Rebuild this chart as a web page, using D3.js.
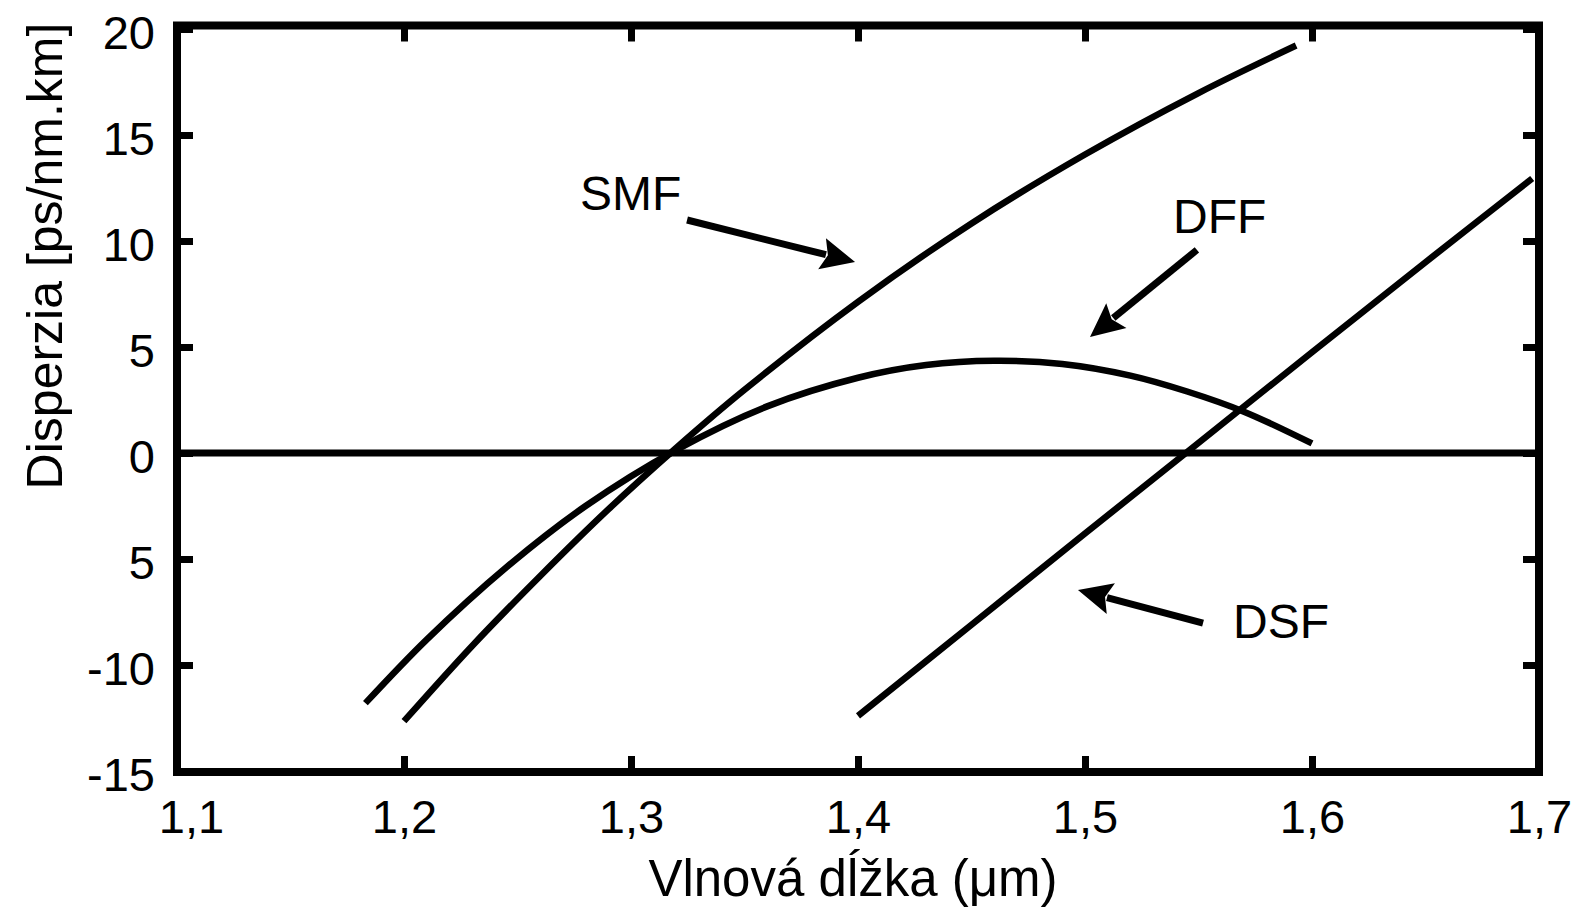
<!DOCTYPE html>
<html>
<head>
<meta charset="utf-8">
<script src="https://cdn.jsdelivr.net/npm/d3@7/dist/d3.min.js"></script>
<style>
body { margin: 0; background: #fff; }
svg text { font-family: "Liberation Sans", Arial, sans-serif; fill: #000; }
</style>
</head>
<body>
<script>
// axis ticks
const xTicks = [1.1, 1.2, 1.3, 1.4, 1.5, 1.6, 1.7];
const xTickLabels = ["1,1", "1,2", "1,3", "1,4", "1,5", "1,6", "1,7"];
const yTicks = [-15, -10, -5, 0, 5, 10, 15, 20];
const yTickLabels = ["-15", "-10", "5", "0", "5", "10", "15", "20"]; // as printed

// dispersion curves [wavelength um, ps/nm.km]
const smf = [[1.20, -12.65], [1.23, -9.1], [1.26, -5.8], [1.29, -2.66], [1.32, 0.25],
             [1.35, 2.98], [1.40, 7.13], [1.45, 10.83], [1.50, 14.08], [1.55, 16.98], [1.593, 19.22]];
const dff = [[1.183, -11.8], [1.21, -8.8], [1.245, -5.4], [1.28, -2.5], [1.32, 0.15],
             [1.36, 2.2], [1.40, 3.55], [1.43, 4.15], [1.46, 4.35], [1.49, 4.2],
             [1.52, 3.65], [1.545, 2.9], [1.57, 1.95], [1.60, 0.45]];
const dsf = [[1.40, -12.4], [1.45, -8.1], [1.50, -3.8], [1.545, 0.05],
             [1.60, 4.75], [1.65, 9.0], [1.697, 12.95]];

// labels with arrows (data units)
const notes = [
    { name: "SMF", tx: 1.2775, ty: 11.46, from: [1.3247, 10.99], to: [1.3987, 9.01] },
    { name: "DFF", tx: 1.5388, ty: 10.38, from: [1.5493, 9.58], to: [1.5022, 5.47] },
    { name: "DSF", tx: 1.5652, ty: -8.73, from: [1.552, -8.02], to: [1.4969, -6.46] }
];

const width = 1576, height = 918;
const svg = d3.select("body").append("svg")
    .attr("width", width)
    .attr("height", height);

const x = d3.scaleLinear().domain([1.1, 1.7]).range([177, 1539]);
const y = d3.scaleLinear().domain([-15, 20]).range([771, 29]);

const frameTop = 25.5, frameBottom = 772;

// inward ticks on all four sides
function styleAxis(g) {
    g.select(".domain").remove();
    g.selectAll(".tick line").attr("stroke", "#000").attr("stroke-width", 7);
    g.selectAll("text").attr("font-size", 47);
    g.attr("font-family", null).attr("font-size", null);
}

svg.append("g")
    .attr("transform", `translate(0,${frameBottom})`)
    .call(d3.axisBottom(x).tickValues(xTicks).tickSize(-16).tickPadding(28)
        .tickFormat((d, i) => xTickLabels[i]))
    .call(styleAxis)
    .selectAll("text").attr("dx", (d, i) => i === 0 ? 14 : 0);

svg.append("g")
    .attr("transform", `translate(0,${frameTop})`)
    .call(d3.axisTop(x).tickValues(xTicks).tickSize(-16).tickFormat(""))
    .call(styleAxis);

svg.append("g")
    .attr("transform", `translate(177,0)`)
    .call(d3.axisLeft(y).tickValues(yTicks).tickSize(-16).tickPadding(22)
        .tickFormat((d, i) => yTickLabels[i]))
    .call(styleAxis)
    .selectAll("text").attr("dy", "0.42em");

svg.append("g")
    .attr("transform", `translate(1539,0)`)
    .call(d3.axisRight(y).tickValues(yTicks).tickSize(-16).tickFormat(""))
    .call(styleAxis);

// frame
svg.append("rect")
    .attr("x", x.range()[0]).attr("y", frameTop)
    .attr("width", x.range()[1] - x.range()[0]).attr("height", frameBottom - frameTop)
    .attr("fill", "none").attr("stroke", "#000").attr("stroke-width", 8);

// zero line
svg.append("line")
    .attr("x1", x(1.1)).attr("x2", x(1.7))
    .attr("y1", y(0)).attr("y2", y(0))
    .attr("stroke", "#000").attr("stroke-width", 7);

const line = d3.line()
    .x(d => x(d[0]))
    .y(d => y(d[1]))
    .curve(d3.curveCatmullRom.alpha(0.5));

svg.append("g")
    .selectAll("path")
    .data([smf, dff, dsf])
    .enter().append("path")
    .attr("d", line)
    .attr("fill", "none")
    .attr("stroke", "#000")
    .attr("stroke-width", 6.5);

// annotations
const ann = svg.append("g");
notes.forEach(n => {
    const x1 = x(n.from[0]), y1 = y(n.from[1]);
    const x2 = x(n.to[0]), y2 = y(n.to[1]);
    const a = Math.atan2(y2 - y1, x2 - x1);
    const hl = 34, hw = 16;
    const bx = x2 - hl * Math.cos(a), by = y2 - hl * Math.sin(a);
    ann.append("line")
        .attr("x1", x1).attr("y1", y1)
        .attr("x2", bx + 4 * Math.cos(a)).attr("y2", by + 4 * Math.sin(a))
        .attr("stroke", "#000").attr("stroke-width", 7);
    ann.append("polygon")
        .attr("points", [
            [x2, y2],
            [bx - hw * Math.sin(a), by + hw * Math.cos(a)],
            [bx + 6 * Math.cos(a), by + 6 * Math.sin(a)],
            [bx + hw * Math.sin(a), by - hw * Math.cos(a)]
        ].map(p => p.join(",")).join(" "))
        .attr("fill", "#000");
    ann.append("text")
        .attr("x", x(n.tx)).attr("y", y(n.ty))
        .attr("font-size", 48)
        .text(n.name);
});

// axis titles
svg.append("text")
    .attr("x", (x.range()[0] + x.range()[1]) / 2 - 5)
    .attr("y", 896)
    .attr("text-anchor", "middle")
    .attr("font-size", 51)
    .text("Vlnová dĺžka (μm)");

svg.append("text")
    .attr("transform", "translate(62,256) rotate(-90)")
    .attr("text-anchor", "middle")
    .attr("font-size", 50)
    .text("Disperzia [ps/nm.km]");
</script>
</body>
</html>
